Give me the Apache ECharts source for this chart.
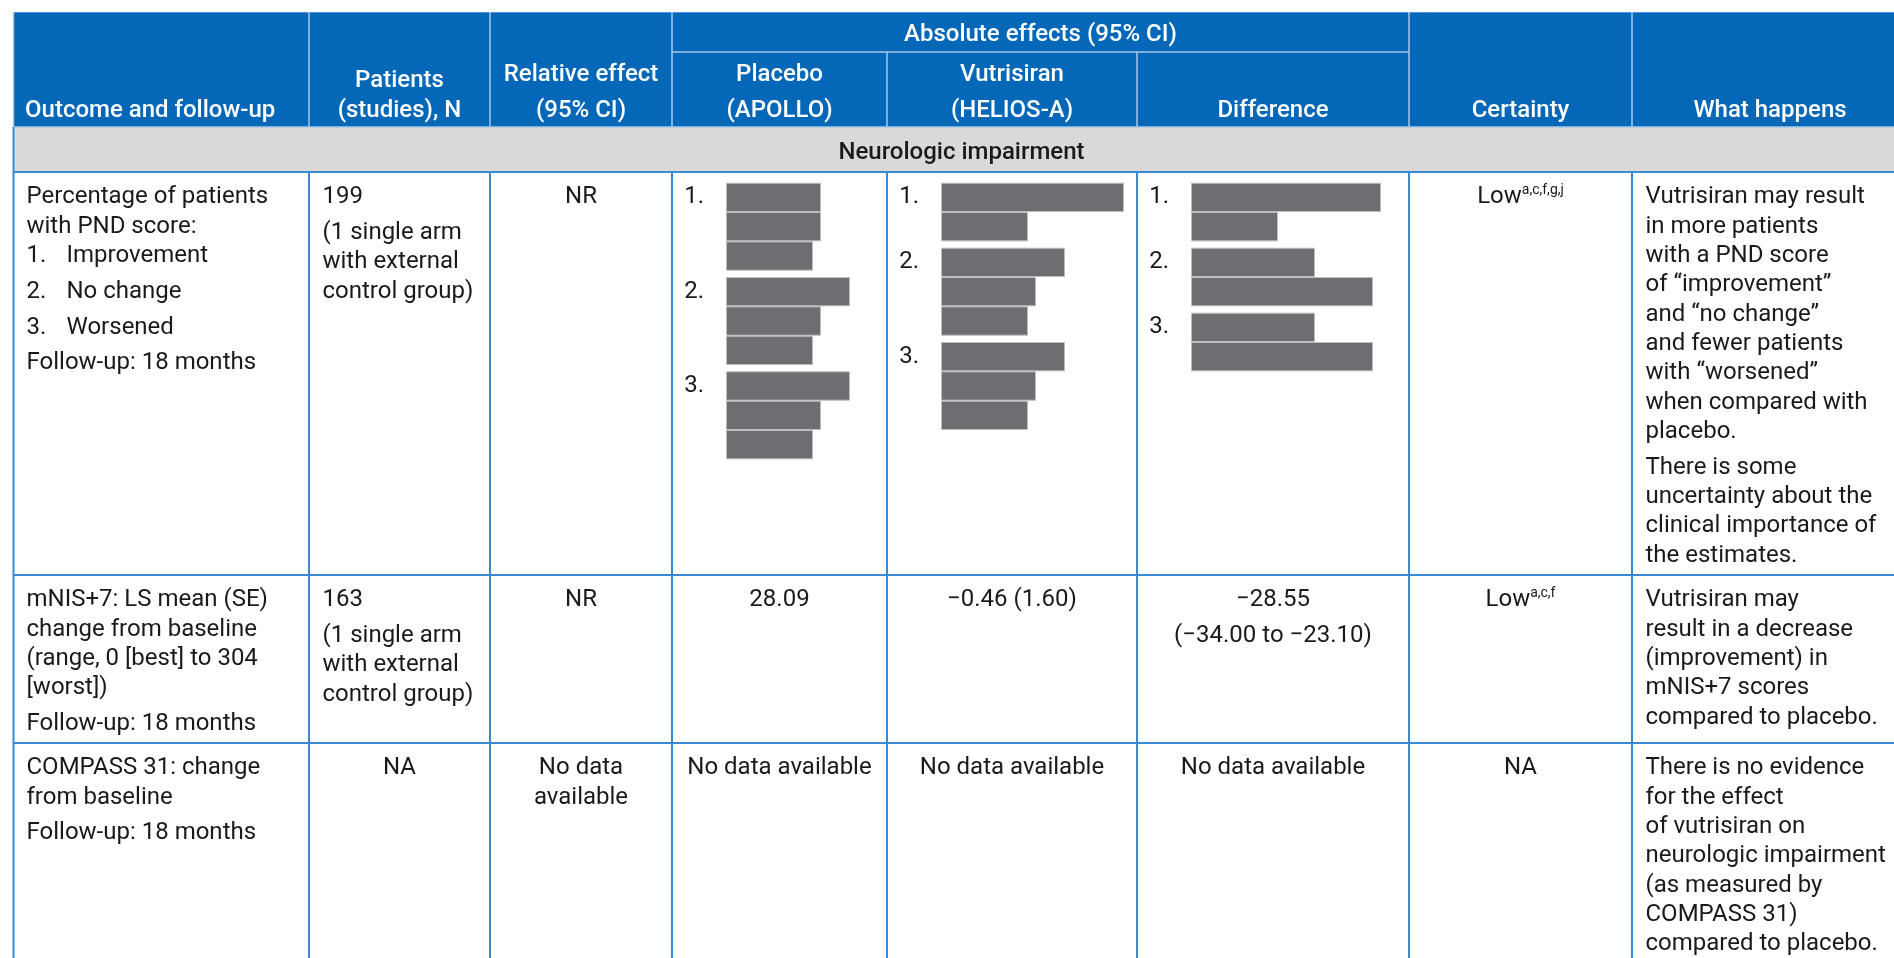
<!DOCTYPE html>
<html><head><meta charset="utf-8">
<script src="https://cdn.jsdelivr.net/npm/echarts@6/dist/echarts.min.js"></script>
<style>html,body{margin:0;padding:0;background:#fff}#c{width:1894px;height:958px}</style>
</head><body><div id="c"></div><script>
// ---------------- DATA ----------------
const headerGroupTitle = 'Absolute effects (95% CI)';
const columnHeaders = [
  ['Outcome and follow-up'],
  ['Patients', '(studies), N'],
  ['Relative effect', '(95% CI)'],
  ['Placebo', '(APOLLO)'],
  ['Vutrisiran', '(HELIOS-A)'],
  ['Difference'],
  ['Certainty'],
  ['What happens']
];
const sectionTitle = 'Neurologic impairment';
const groupLabels = ['1.', '2.', '3.'];

// Redacted bar widths (pixel units) per group of lines
const placeboBars    = [[95, 95, 87], [124, 95, 87], [124, 95, 87]];
const vutrisiranBars = [[183, 87], [124, 95, 87], [124, 95, 87]];
const differenceBars = [[190, 87], [124, 182], [124, 182]];

const row1Outcome   = [['Percentage of patients', 'with PND score:', '1.\tImprovement'], ['2.\tNo change'], ['3.\tWorsened'], ['Follow-up: 18 months']];
const row1Patients  = [['199'], ['(1 single arm', 'with external', 'control group)']];
const row1Relative  = [['NR']];
const row1Certainty = { text: 'Low', sup: 'a,c,f,g,j' };
const row1What      = [['Vutrisiran may result', 'in more patients', 'with a PND score', 'of \u201cimprovement\u201d', 'and \u201cno change\u201d', 'and fewer patients', 'with \u201cworsened\u201d', 'when compared with', 'placebo.'],
                       ['There is some', 'uncertainty about the', 'clinical importance of', 'the estimates.']];

const row2Outcome   = [['mNIS+7: LS mean (SE)', 'change from baseline', '(range, 0 [best] to 304', '[worst])'], ['Follow-up: 18 months']];
const row2Patients  = [['163'], ['(1 single arm', 'with external', 'control group)']];
const row2Relative  = [['NR']];
const row2Placebo   = [['28.09']];
const row2Vutr      = [['\u22120.46 (1.60)']];
const row2Diff      = [['\u221228.55'], ['(\u221234.00 to \u221223.10)']];
const row2Certainty = { text: 'Low', sup: 'a,c,f' };
const row2What      = [['Vutrisiran may', 'result in a decrease', '(improvement) in', 'mNIS+7 scores', 'compared to placebo.']];

const row3Outcome   = [['COMPASS 31: change', 'from baseline'], ['Follow-up: 18 months']];
const row3Patients  = [['NA']];
const row3Relative  = [['No data', 'available']];
const row3Placebo   = [['No data available']];
const row3Vutr      = [['No data available']];
const row3Diff      = [['No data available']];
const row3Certainty = [['NA']];
const row3What      = [['There is no evidence', 'for the effect', 'of vutrisiran on', 'neurologic impairment', '(as measured by', 'COMPASS 31)', 'compared to placebo.']];

// ---------------- LAYOUT ----------------
const FONT = 'Roboto';
const TXT = '#1a1a1a';
const HEAD_BG = '#0467B7';
const HEAD_LINE = '#A9C9EA';
const BODY_LINE = '#3A8AD3';
const BAND_BG = '#D9D9D9';
const BAR = '#6D6E71';
const colEdges = [13, 309, 490, 672, 887, 1137, 1409, 1632, 1908];
const RIGHT = 1910;
const headTop = 12, subHead = 52, headBottom = 127, bandBottom = 172;
const rowTops = [172, 575, 743];
const LH = 29.33, PG = 6.4, FIRST = 23, PAD = 13.5;
const TY = 2.4; // vertical text nudge

const g = [];
function line(x1, y1, x2, y2, stroke, w) {
  g.push({ type: 'line', silent: true, shape: { x1, y1, x2, y2 }, style: { stroke, lineWidth: w } });
}
function text(s, x, y, align, weight, color) {
  g.push({ type: 'text', silent: true, style: {
    text: s, x, y: y + TY, textAlign: align, textVerticalAlign: 'middle',
    fontFamily: FONT, fontSize: 24, fontWeight: weight || 400, fill: color || TXT } });
}
function colCenter(i) { return (colEdges[i] + colEdges[i + 1]) / 2; }
function cell(paras, ci, ri, align) {
  let y = rowTops[ri] + FIRST;
  const x = align === 'center' ? colCenter(ci) : colEdges[ci] + PAD;
  paras.forEach((p, pi) => {
    if (pi > 0) y += PG;
    p.forEach(l => {
      if (l.indexOf('\t') >= 0) {
        const parts = l.split('\t');
        text(parts[0], x, y, 'left');
        text(parts[1], x + 40, y, 'left');
      } else {
        text(l, x, y, align);
      }
      y += LH;
    });
  });
}
function certainty(c, ri) {
  g.push({ type: 'text', silent: true, style: {
    text: '{n|' + c.text + '}{s|' + c.sup + '}', x: colCenter(6), y: rowTops[ri] + FIRST + TY,
    textAlign: 'center', textVerticalAlign: 'middle', fill: TXT,
    rich: {
      n: { fontFamily: FONT, fontSize: 24, lineHeight: 28, fill: TXT },
      s: { fontFamily: FONT, fontSize: 14, lineHeight: 16, verticalAlign: 'top', fill: TXT }
    } } });
}

// backgrounds
g.push({ type: 'rect', silent: true, shape: { x: 13, y: headTop, width: RIGHT - 13, height: headBottom - headTop }, style: { fill: HEAD_BG } });
g.push({ type: 'rect', silent: true, shape: { x: 13, y: headBottom, width: RIGHT - 13, height: bandBottom - headBottom }, style: { fill: BAND_BG } });

// header lines
line(13, headTop + 0.5, RIGHT, headTop + 0.5, '#4D93D6', 1);
line(13.5, headTop, 13.5, headBottom, HEAD_LINE, 1.5);
colEdges.slice(1, 8).forEach((x, i) => {
  const ci = i + 1;
  const yTop = (ci === 4 || ci === 5) ? subHead : headTop;
  line(x, yTop, x, headBottom, HEAD_LINE, 1.5);
});
line(colEdges[3], subHead, colEdges[6], subHead, HEAD_LINE, 1.5);
line(13, headBottom, RIGHT, headBottom, HEAD_LINE, 1.5);

// body lines
line(13.5, headBottom, 13.5, 958, BODY_LINE, 2);
[bandBottom, 575, 743].forEach(y => line(13, y, RIGHT, y, BODY_LINE, 2));
colEdges.slice(1, 8).forEach(x => line(x, bandBottom, x, 958, BODY_LINE, 2));

// header texts
text(columnHeaders[0][0], 25, 108.5, 'left', 500, '#fff');
text(columnHeaders[1][0], colCenter(1), 79, 'center', 500, '#fff');
text(columnHeaders[1][1], colCenter(1), 108.5, 'center', 500, '#fff');
[2, 3, 4].forEach(ci => {
  text(columnHeaders[ci][0], colCenter(ci), 73, 'center', 500, '#fff');
  text(columnHeaders[ci][1], colCenter(ci), 108.5, 'center', 500, '#fff');
});
[5, 6, 7].forEach(ci => text(columnHeaders[ci][0], colCenter(ci), 108.5, 'center', 500, '#fff'));
text(headerGroupTitle, (colEdges[3] + colEdges[6]) / 2, 33, 'center', 500, '#fff');
text(sectionTitle, (13 + RIGHT) / 2, 151, 'center', 500, TXT);

// row 1
cell(row1Outcome, 0, 0, 'left');
cell(row1Patients, 1, 0, 'left');
cell(row1Relative, 2, 0, 'center');
certainty(row1Certainty, 0);
cell(row1What, 7, 0, 'left');
// row 2
cell(row2Outcome, 0, 1, 'left');
cell(row2Patients, 1, 1, 'left');
cell(row2Relative, 2, 1, 'center');
cell(row2Placebo, 3, 1, 'center');
cell(row2Vutr, 4, 1, 'center');
cell(row2Diff, 5, 1, 'center');
certainty(row2Certainty, 1);
cell(row2What, 7, 1, 'left');
// row 3
cell(row3Outcome, 0, 2, 'left');
cell(row3Patients, 1, 2, 'center');
cell(row3Relative, 2, 2, 'center');
cell(row3Placebo, 3, 2, 'center');
cell(row3Vutr, 4, 2, 'center');
cell(row3Diff, 5, 2, 'center');
cell(row3Certainty, 6, 2, 'center');
cell(row3What, 7, 2, 'left');

// bars
const grids = [], xAxes = [], yAxes = [], series = [];
[[placeboBars, 3], [vutrisiranBars, 4], [differenceBars, 5]].forEach(([groups, ci]) => {
  let top = rowTops[0] + 10.7;
  groups.forEach((vals, gi) => {
    const idx = grids.length;
    grids.push({ left: colEdges[ci] + 54, top: top, width: 200, height: vals.length * LH });
    xAxes.push({ gridIndex: idx, type: 'value', min: 0, max: 200, show: false });
    yAxes.push({ gridIndex: idx, type: 'category', inverse: true,
      data: vals.map((v, k) => groupLabels[gi] + '#' + k),
      axisLine: { show: false }, axisTick: { show: false }, splitLine: { show: false },
      axisLabel: { margin: 22, fontSize: 24, fontFamily: FONT, color: TXT, padding: [5, 0, 0, 0],
        formatter: (v, i) => (i === 0 ? v.split('#')[0] : '') } });
    series.push({ type: 'bar', xAxisIndex: idx, yAxisIndex: idx, data: vals, barWidth: '100%', silent: true,
      itemStyle: { color: BAR, borderColor: '#BDBDC0', borderWidth: 1 } });
    top += vals.length * LH + 6.33;
  });
});

const chart = echarts.init(document.getElementById('c'), null, { renderer: 'canvas' });
chart.setOption({
  animation: false,
  backgroundColor: '#fff',
  grid: grids, xAxis: xAxes, yAxis: yAxes, series: series,
  graphic: { elements: g }
});
</script></body></html>
